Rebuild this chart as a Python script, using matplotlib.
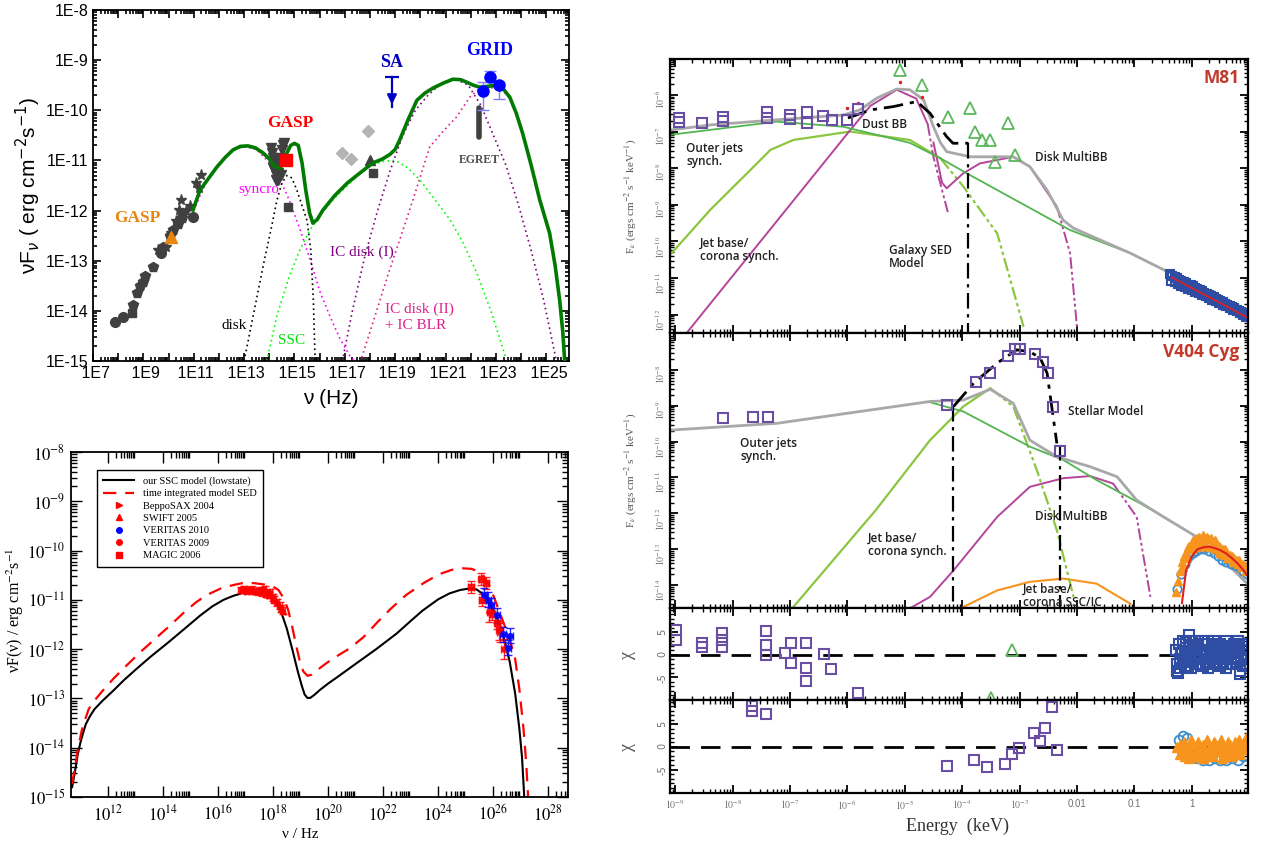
import numpy as np
import matplotlib
matplotlib.use("Agg")
import matplotlib.pyplot as plt
from matplotlib.lines import Line2D
from matplotlib.ticker import LogLocator, FuncFormatter, NullFormatter, MultipleLocator, FixedLocator

plt.rcParams['mathtext.fontset'] = 'stix'
plt.rcParams['axes.linewidth'] = 1.3

# all positions on the log axes are stored as log10 values

# ---------------- panel A : blazar SED ----------------
a_model_x = [10.97, 11.25, 11.6, 11.92, 12.25, 12.56, 12.85, 13.15, 13.45, 13.75, 14.0, 14.14, 14.3,
             14.42, 14.55, 14.7, 14.85, 15.0, 15.15, 15.3, 15.45, 15.6, 15.73, 15.9, 16.13, 16.6, 17.1,
             17.6, 18.11, 18.5, 18.79, 19.0, 19.18, 19.5, 19.86, 20.2, 20.49, 20.9, 21.29, 21.6, 21.84,
             22.1, 22.36, 22.7, 23.03, 23.3, 23.55, 23.8, 24.06, 24.4, 24.74, 25.13, 25.35, 25.53, 25.65, 25.73]
a_model_y = [-11.99, -11.59, -11.35, -11.13, -10.94, -10.79, -10.72, -10.71, -10.75, -10.85, -10.97, -11.09,
             -11.14, -11.16, -11.05, -10.85, -10.7, -10.66, -10.7, -11.05, -11.6, -12.05, -12.25, -12.18,
             -11.99, -11.7, -11.45, -11.25, -11.05, -10.97, -10.88, -10.78, -10.59, -10.2, -9.8, -9.65,
             -9.56, -9.46, -9.38, -9.39, -9.44, -9.5, -9.54, -9.52, -9.5, -9.58, -9.74, -10.05, -10.46,
             -11.1, -11.79, -12.45, -13.1, -13.79, -14.4, -15.0]
a_disk_x = [13.0, 13.4, 13.8, 14.1, 14.3, 14.5, 14.7, 14.9, 15.1, 15.3, 15.5, 15.65, 15.75, 15.82]
a_disk_y = [-15.0, -14.0, -13.0, -12.3, -11.8, -11.45, -11.3, -11.35, -11.6, -11.9, -12.2, -12.8, -13.8, -15.0]
a_sync_x = [11.0, 11.5, 12.0, 12.5, 13.0, 13.5, 14.0, 14.4, 14.8, 15.2, 15.6, 16.0, 16.4, 16.8, 17.2, 17.4]
a_sync_y = [-12.0, -11.4, -11.1, -10.8, -10.72, -10.78, -11.05, -11.35, -11.8, -12.35, -12.95, -13.6,
            -14.1, -14.55, -14.9, -15.0]
a_ssc_x = [13.9, 14.3, 14.8, 15.2, 15.6, 16.0, 16.5, 17.0, 17.5, 18.0, 18.5, 19.0, 19.5, 20.0, 20.6,
           21.2, 21.7, 22.2, 22.8, 23.4]
a_ssc_y = [-15.0, -14.1, -13.3, -12.8, -12.4, -12.1, -11.8, -11.55, -11.3, -11.12, -11.02, -11.0, -11.15,
           -11.4, -11.8, -12.2, -12.65, -13.2, -14.0, -14.95]
a_icd1_x = [16.9, 17.3, 17.8, 18.3, 18.8, 19.3, 19.8, 20.3, 20.8, 21.4, 21.9, 22.4, 22.9, 23.4, 23.9,
            24.4, 24.9, 25.4]
a_icd1_y = [-15.0, -14.0, -12.9, -12.0, -11.2, -10.5, -10.0, -9.7, -9.47, -9.38, -9.5, -9.9, -10.5,
            -11.1, -11.9, -12.8, -13.8, -15.0]
a_icd2_x = [17.67, 18.2, 18.7, 19.2, 19.7, 20.37, 20.9, 21.44, 21.96, 22.36, 22.7, 23.03, 23.3, 23.55,
            23.8, 24.06, 24.4, 24.74, 25.13, 25.35, 25.53, 25.65, 25.73]
a_icd2_y = [-14.93, -14.1, -13.3, -12.55, -11.79, -10.73, -10.42, -10.13, -9.74, -9.56, -9.56, -9.54,
            -9.62, -9.77, -10.08, -10.49, -11.13, -11.81, -12.48, -13.13, -13.82, -14.43, -15.0]
a_circ_x = [7.87, 8.19, 9.7, 10.97]
a_circ_y = [-14.23, -14.13, -12.85, -12.13]
a_pent_x = [8.6, 8.75, 8.87, 9.0, 9.06, 9.38, 9.78, 10.05, 10.17, 10.38, 10.52]
a_pent_y = [-13.89, -13.65, -13.5, -13.42, -13.3, -13.13, -12.73, -12.5, -12.39, -12.27, -12.15]
a_star_x = [9.6, 9.9, 10.1, 10.3, 10.4, 10.5, 10.7, 10.85, 11.1, 11.2, 11.3]
a_star_y = [-12.78, -12.72, -12.45, -12.2, -11.98, -11.78, -12.0, -11.9, -11.45, -11.55, -11.3]
a_sq_x = [8.55, 10.55, 14.75, 18.11]
a_sq_y = [-14.05, -12.05, -11.92, -11.26]
a_opt_x = [14.05, 14.1, 14.15, 14.2, 14.2, 14.25, 14.3, 14.35, 14.4, 14.45, 14.3, 14.5, 14.55, 14.6,
           14.25, 14.35, 14.15, 14.4]
a_opt_y = [-10.75, -10.85, -10.95, -11.05, -11.2, -11.3, -11.4, -11.25, -11.1, -11.3, -11.0, -10.8,
           -10.7, -10.65, -11.4, -11.4, -11.15, -10.95]
a_gasp_red = (14.66, -11.0)
a_gasp_orange = (10.1, -12.53)
a_diam_x = [17.91, 16.88, 17.24]
a_diam_y = [-10.41, -10.85, -10.97]
a_tri = (17.99, -11.0)
a_sa_x, a_sa_top, a_sa_bot = 18.87, -9.34, -9.94
a_egret_x, a_egret_top, a_egret_bot = 22.32, -9.96, -10.53
a_grid_x = [22.48, 22.75, 23.11]
a_grid_y = [-9.61, -9.34, -9.5]
a_grid_lo = [-10.0, -9.44, -9.78]
a_grid_hi = [-9.44, -9.22, -9.44]
a_xticks = list(range(7, 26))
a_yticks = list(range(-15, -7))

# ---------------- panel B : SSC model ----------------
b_ssc_x = [10.7, 10.8, 10.9, 11.0, 11.1, 11.2, 11.35, 11.51, 11.8, 12.2, 12.6, 13.0, 13.56, 14.16,
           14.8, 15.35, 15.8, 16.2, 16.55, 16.9, 17.3, 17.6, 17.9, 18.1, 18.3, 18.5, 18.7, 18.9, 19.05,
           19.15, 19.25, 19.35, 19.5, 19.7, 20.0, 20.38, 21.0, 21.75, 22.5, 23.0, 23.43, 24.0, 24.41,
           24.8, 25.13, 25.4, 25.6, 25.86, 26.05, 26.22, 26.4, 26.6, 26.8, 26.95, 27.05, 27.13]
b_ssc_y = [-14.8, -14.5, -14.15, -13.9, -13.7, -13.52, -13.36, -13.22, -13.05, -12.84, -12.62, -12.42,
           -12.15, -11.88, -11.58, -11.32, -11.13, -11.0, -10.92, -10.86, -10.82, -10.83, -10.9,
           -11.02, -11.25, -11.58, -12.0, -12.45, -12.75, -12.92, -12.99, -12.99, -12.93, -12.83,
           -12.7, -12.55, -12.3, -12.0, -11.68, -11.43, -11.22, -10.99, -10.87, -10.8, -10.77,
           -10.79, -10.87, -11.05, -11.25, -11.47, -11.8, -12.25, -12.9, -13.6, -14.2, -15.0]
b_int_x = [10.7, 10.8, 10.92, 11.05, 11.19, 11.3, 11.46, 11.8, 12.2, 12.7, 13.2, 13.7, 14.2, 14.74,
           15.2, 15.6, 16.1, 16.55, 16.9, 17.3, 17.7, 18.0, 18.2, 18.4, 18.55, 18.7, 18.85, 19.0, 19.1,
           19.25, 19.4, 19.6, 19.9, 20.3, 20.8, 21.3, 21.8, 22.3, 22.84, 23.5, 24.04, 24.5, 24.88,
           25.2, 25.45, 25.65, 25.85, 26.0, 26.2, 26.4, 26.6, 26.8, 26.95, 27.1, 27.2, 27.27]
b_int_y = [-14.74, -14.4, -14.0, -13.65, -13.4, -13.22, -13.08, -12.85, -12.6, -12.32, -12.05, -11.8,
           -11.55, -11.27, -11.05, -10.9, -10.77, -10.7, -10.66, -10.66, -10.69, -10.73, -10.8,
           -10.98, -11.2, -11.55, -11.95, -12.3, -12.45, -12.54, -12.52, -12.43, -12.3, -12.15,
           -11.98, -11.75, -11.45, -11.17, -10.9, -10.65, -10.48, -10.39, -10.36, -10.37, -10.42,
           -10.52, -10.7, -10.9, -11.2, -11.5, -11.8, -12.2, -12.8, -13.6, -14.3, -15.0]
b_sax_x = [16.85, 17.05, 17.25, 17.45, 17.6, 17.75, 17.9, 18.05, 18.25]
b_sax_y = [-10.8, -10.82, -10.79, -10.83, -10.85, -10.88, -10.85, -11.0, -11.12]
b_swift_x = [16.95, 17.15, 17.35, 17.55, 17.7, 17.85, 18.0, 18.15, 18.3, 18.38]
b_swift_y = [-10.78, -10.8, -10.82, -10.8, -10.78, -10.9, -10.95, -11.05, -11.18, -11.22]
b_magic_x = [25.2, 25.57, 25.75, 25.6, 25.97, 26.15]
b_magic_y = [-10.74, -10.57, -10.66, -11.0, -11.28, -11.47]
b_ver09_x = [25.86, 26.22, 26.25, 26.4]
b_ver09_y = [-11.25, -11.62, -11.66, -12.0]
b_ver10_x = [25.68, 25.83, 25.93, 26.15, 26.35, 26.55, 26.62]
b_ver10_y = [-10.9, -11.0, -11.11, -11.31, -11.7, -11.97, -11.73]
b_xticks = [12, 14, 16, 18, 20, 22, 24, 26, 28]
b_yticks = list(range(-15, -7))

# ---------------- panel C : M81 ----------------
m_tot_x = [-9.09, -8.39, -7.23, -6.07, -5.78, -5.49, -5.14, -4.91, -4.67, -4.5, -4.38, -4.27, -3.86,
           -3.11, -2.82, -2.52, -2.24, -2.06, -1.07, -0.2, 0.96]
m_tot_y = [-6.96, -6.82, -6.68, -6.55, -6.41, -6.09, -5.84, -5.86, -6.14, -6.87, -7.3, -7.55, -7.69,
           -7.69, -7.96, -8.6, -9.42, -9.64, -10.32, -11.0, -12.09]
m_jet_x = [-9.09, -7.23, -6.07, -4.91, -4.38, -3.92, -2.12, -1.07, -0.2, 0.96]
m_jet_y = [-7.09, -6.73, -6.87, -7.31, -7.73, -8.14, -9.69, -10.32, -11.0, -12.09]
m_base_x = [-9.09, -8.39, -7.69, -7.34, -6.94, -5.95, -4.91, -4.38]
m_base_y = [-10.37, -9.14, -8.05, -7.5, -7.23, -7.0, -7.23, -7.73]
m_base_tail_x = [-4.38, -3.98, -3.39, -2.93]
m_base_tail_y = [-7.73, -8.5, -9.78, -12.33]
m_dust_x = [-8.8, -5.95, -5.6, -5.14, -4.8, -4.6]
m_dust_y = [-12.5, -6.96, -6.3, -5.86, -6.1, -6.8]
m_dust_tail_x = [-4.6, -4.5, -4.35, -4.25]
m_dust_tail_y = [-6.8, -7.7, -8.6, -9.2]
m_disk_x = [-4.5, -4.35, -4.27, -3.98, -3.69, -3.11, -2.82, -2.35]
m_disk_y = [-7.3, -8.4, -8.55, -8.14, -7.87, -7.69, -7.96, -9.05]
m_disk_tail_x = [-2.35, -2.12, -2.0]
m_disk_tail_y = [-9.05, -10.32, -12.33]
m_gal_x = [-5.99, -5.6, -5.2, -4.79, -4.56, -4.27, -4.16, -3.92, -3.89]
m_gal_y = [-6.63, -6.41, -6.32, -6.18, -6.5, -7.14, -7.32, -7.32, -7.32]
m_gal_drop_x = -3.89
m_sq_x = [-8.94, -8.94, -8.54, -8.17, -8.17, -7.4, -7.4, -7.0, -7.0, -6.7, -6.7, -6.42, -6.27, -6.01, -5.81]
m_sq_y = [-6.64, -6.74, -6.76, -6.61, -6.7, -6.46, -6.64, -6.55, -6.67, -6.48, -6.76, -6.57, -6.68, -6.68, -6.38]
m_tri_x = [-5.08, -4.7, -4.24, -3.87, -3.77, -3.66, -3.52, -3.21, -3.43, -3.08]
m_tri_y = [-5.32, -5.73, -6.59, -6.36, -7.0, -7.23, -7.23, -6.76, -7.82, -7.64]
m_red_x = [-6.0, -5.82, -5.08, -4.7]
m_red_y = [-6.35, -6.22, -5.65, -6.05]
m_xr_x = [-0.38, -0.34, -0.3, -0.26, -0.22, -0.18, -0.14, -0.1, -0.06, -0.02, 0.02, 0.06, 0.1, 0.14,
          0.18, 0.22, 0.26, 0.3, 0.34, 0.38, 0.42, 0.46, 0.5, 0.54, 0.58, 0.62, 0.66, 0.7, 0.74, 0.78,
          0.82, 0.86, 0.9, 0.94,
          -0.36, -0.3, -0.24, -0.18, -0.12, -0.06, 0.0, 0.06, 0.12, 0.18, 0.24, 0.3, 0.36, 0.42, 0.48,
          0.54, 0.6, 0.66, 0.72, 0.78, 0.84, 0.9, 0.95]
m_xr_y = [-10.9, -10.95, -10.98, -11.0, -11.05, -11.08, -11.1, -11.13, -11.18, -11.2, -11.22, -11.27,
          -11.3, -11.33, -11.36, -11.4, -11.44, -11.46, -11.5, -11.52, -11.57, -11.6, -11.64, -11.66,
          -11.7, -11.73, -11.77, -11.8, -11.82, -11.86, -11.9, -11.93, -11.96, -12.0,
          -11.08, -11.12, -11.17, -11.21, -11.25, -11.3, -11.33, -11.38, -11.42, -11.47, -11.5,
          -11.55, -11.6, -11.63, -11.68, -11.73, -11.77, -11.82, -11.86, -11.9, -11.95, -12.0, -12.06]

# ---------------- panel C : V404 Cyg ----------------
v_tot_x = [-9.09, -7.23, -4.56, -3.98, -3.51, -3.11, -2.82, -2.35, -1.77, -1.3, -0.96, -0.49, 0.09, 0.5, 0.98]
v_tot_y = [-9.68, -9.49, -8.88, -8.84, -8.54, -8.93, -9.96, -10.42, -10.7, -10.98, -11.63, -12.1,
           -12.66, -13.22, -13.98]
v_jet_x = [-4.56, -3.98, -2.82, -2.24, -1.66, -0.9, -0.49, 0.09, 0.5, 0.98]
v_jet_y = [-8.9, -9.16, -10.14, -10.51, -11.07, -11.72, -12.1, -12.66, -13.22, -13.98]
v_base_x = [-6.94, -5.5, -4.56, -3.98, -3.51]
v_base_y = [-14.61, -11.9, -9.96, -9.02, -8.51]
v_base_tail_x = [-3.51, -3.11, -2.7, -2.35, -2.06]
v_base_tail_y = [-8.51, -9.02, -10.79, -12.47, -14.33]
v_disk_x = [-4.9, -4.56, -4.15, -3.39, -2.82, -2.24, -1.77, -1.37]
v_disk_y = [-14.64, -14.33, -13.59, -12.1, -11.26, -11.02, -10.96, -11.17]
v_disk_tail_x = [-1.37, -0.96, -0.72]
v_disk_tail_y = [-11.17, -12.1, -14.33]
v_ssc_x = [-3.98, -3.39, -2.82, -2.24, -1.66, -1.07]
v_ssc_y = [-14.61, -14.15, -13.91, -13.82, -13.96, -14.52]
v_star_x = [-4.15, -3.8, -3.39, -3.05, -2.82, -2.64, -2.52, -2.44, -2.35]
v_star_y = [-9.02, -8.37, -7.81, -7.44, -7.49, -7.67, -8.09, -9.02, -10.05]
v_drop_x = [-4.16, -2.29]
v_drop_top = [-9.0, -10.1]
v_sq_x = [-8.17, -7.64, -7.39, -4.26, -3.76, -3.51, -3.21, -3.08, -2.99, -2.73, -2.6, -2.51, -2.42, -2.29]
v_sq_y = [-9.35, -9.32, -9.32, -8.98, -8.35, -8.08, -7.61, -7.42, -7.42, -7.55, -7.78, -8.08, -9.04, -10.25]
v_or_x = [-0.27, -0.24, -0.2, -0.17, -0.14, -0.1, -0.07, -0.04, 0.0, 0.03, 0.06, 0.1, 0.13, 0.16, 0.2,
          0.23, 0.26, 0.3, 0.33, 0.36, 0.4, 0.43, 0.47, 0.5, 0.54, 0.58, 0.62, 0.66, 0.7, 0.74, 0.78,
          0.82, 0.86, 0.9, 0.94, 0.97,
          -0.15, -0.08, 0.0, 0.08, 0.16, 0.24, 0.32, 0.4, 0.48, 0.56, 0.64, 0.72, 0.8, 0.88, 0.95]
v_or_y = [-14.2, -13.9, -13.6, -13.35, -13.2, -13.1, -12.95, -12.9, -12.85, -12.75, -12.8, -12.7,
          -12.65, -12.75, -12.6, -12.7, -12.65, -12.72, -12.7, -12.8, -12.75, -12.85, -12.9, -12.95,
          -13.0, -13.0, -13.1, -13.15, -13.2, -13.25, -13.3, -13.3, -13.4, -13.4, -13.5, -13.5,
          -13.5, -13.25, -13.0, -12.95, -12.9, -12.9, -12.95, -13.0, -13.1, -13.15, -13.25, -13.35,
          -13.4, -13.5, -13.6]
v_bl_x = [-0.25, -0.18, -0.12, -0.05, 0.02, 0.08, 0.15, 0.22, 0.3, 0.38, 0.45, 0.52, 0.6, 0.68, 0.75,
          0.82, 0.9, 0.96]
v_bl_y = [-14.1, -13.7, -13.4, -13.2, -13.1, -13.05, -13.0, -13.0, -13.05, -13.1, -13.2, -13.3, -13.35,
          -13.4, -13.45, -13.5, -13.6, -13.7]
v_fit_x = [-0.17, -0.15, -0.1, 0.0, 0.1, 0.2, 0.3, 0.4, 0.5, 0.6, 0.7, 0.8, 0.9, 0.98]
v_fit_y = [-14.5, -14.24, -13.6, -13.2, -13.0, -12.95, -12.93, -12.97, -13.03, -13.12, -13.25, -13.4,
           -13.58, -13.77]

# ---------------- residuals ----------------
r1_sq_x = [-8.98, -8.98, -8.54, -8.54, -8.19, -8.19, -8.19, -7.41, -7.41, -7.41, -7.08, -6.99, -6.99,
           -6.72, -6.72, -6.72, -6.41, -6.29, -5.82]
r1_sq_y = [5.6, 3.3, 1.8, 2.6, 4.8, 1.8, 3.3, 5.2, 2.2, 0.0, 0.4, 2.6, -1.7, 2.7, -2.8, -5.8, 0.15, -3.2, -8.4]
r1_tri_x = [-3.13, -3.5]
r1_tri_y = [1.1, -9.6]
r1_bl_x = [-0.27, -0.25, -0.23, -0.2, -0.18, -0.15, -0.12, -0.1, -0.07, -0.04, -0.01, 0.02, 0.05, 0.08,
           0.11, 0.14, 0.17, 0.2, 0.23, 0.26, 0.29, 0.32, 0.35, 0.38, 0.41, 0.44, 0.47, 0.5, 0.53,
           0.56, 0.59, 0.62, 0.65, 0.68, 0.71, 0.74, 0.77, 0.8, 0.83, 0.86, 0.89, 0.92, 0.95,
           -0.26, -0.21, -0.16, -0.11, -0.06, -0.01, 0.04, 0.09, 0.14, 0.19, 0.24, 0.29, 0.34, 0.39,
           0.44, 0.49, 0.54, 0.59, 0.64, 0.69, 0.74, 0.79, 0.84, 0.89, 0.94,
           -0.24, -0.17, -0.1, -0.03, 0.04, 0.11, 0.18, 0.25, 0.32, 0.39, 0.46, 0.53, 0.6, 0.67, 0.74,
           0.81, 0.88, 0.95, -0.05, 0.84]
r1_bl_y = [1.0, -2.0, 2.5, -1.0, 0.5, 3.0, -2.5, 1.5, 0.0, 2.0, -1.5, 1.0, 3.0, -0.5, 2.0, -2.0, 1.0,
           2.5, -1.0, 0.5, 3.0, -2.0, 1.5, 0.0, 2.0, -1.5, 1.0, 2.5, -0.5, 1.5, -2.0, 0.5, 2.0, -1.0,
           1.0, 2.5, -1.5, 0.5, 2.0, -0.5, 1.0, -2.0, 2.5,
           -3.5, -2.8, -1.5, 0.0, -2.5, -3.0, -1.0, -2.0, 0.5, -2.5, -1.5, -3.0, -0.5, -2.0, -1.0,
           -2.5, -1.5, -3.0, -1.0, -2.0, -0.5, -1.5, -3.5, -2.5, -1.0,
           -4.0, 0.5, 2.8, 3.0, 1.5, 2.0, 3.0, 2.5, 1.0, 3.0, 2.0, 1.5, 3.0, 2.0, 1.0, 3.0, 2.5, 1.0,
           4.5, -4.2]
r2_sq_x = [-7.66, -7.66, -7.41, -4.27, -3.8, -3.56, -3.25, -3.13, -3.01, -2.74, -2.65, -2.56, -2.44, -2.34]
r2_sq_y = [9.0, 8.0, 7.3, -4.2, -3.0, -4.4, -3.8, -1.6, -0.3, 3.2, 1.4, 4.1, 8.8, -0.7]
r2_or_x = [-0.25, -0.21, -0.17, -0.13, -0.09, -0.05, -0.01, 0.03, 0.07, 0.11, 0.15, 0.19, 0.23, 0.27,
           0.31, 0.35, 0.39, 0.43, 0.47, 0.51, 0.55, 0.59, 0.63, 0.67, 0.71, 0.75, 0.79, 0.83, 0.87,
           0.91, 0.95, 0.98,
           -0.2, -0.12, -0.04, 0.04, 0.12, 0.2, 0.28, 0.36, 0.44, 0.52, 0.6, 0.68, 0.76, 0.84, 0.92, 0.97]
r2_or_y = [0.0, 0.5, -0.5, 1.0, 0.0, -1.0, 1.5, 0.5, -1.5, 1.0, -0.5, 0.5, -1.0, 1.5, 0.0, -1.5, 1.0,
           0.5, -0.5, 1.5, 0.0, -1.0, 1.0, 0.5, -0.5, 1.0, 0.0, 1.5, 0.5, 1.0, 2.0, 2.5,
           -1.5, -2.0, -2.5, -2.0, -1.0, -2.5, -1.5, -2.0, -1.0, -2.5, -1.5, -2.0, -1.0, -1.5, -0.5, 0.5]
r2_bl_x = [-0.22, -0.15, -0.08, 0.0, 0.1, 0.2, 0.3, 0.4, 0.5, 0.6, 0.7, 0.8, 0.9]
r2_bl_y = [1.5, 2.5, 2.0, -2.0, -2.5, -3.0, -3.0, -2.5, -3.0, -3.0, -2.5, -3.0, -2.0]
c_xticks = [-9, -8, -7, -6, -5, -4, -3, -2, -1, 0]
c_xticklabels = [r'$10^{-9}$', r'$10^{-8}$', r'$10^{-7}$', r'$10^{-6}$', r'$10^{-5}$',
                 r'$10^{-4}$', r'$10^{-3}$', '0.01', '0.1', '1']

# ---------------------------------------------------------------------------
W, H = 1268, 841
fig = plt.figure(figsize=(W / 100, H / 100), dpi=100)


def box(l, t, r, b):
    return [l / W, 1 - b / H, (r - l) / W, (b - t) / H]


def p(v):
    return np.power(10.0, np.asarray(v, dtype=float))


def minors(exps, last=10):
    # 2..9 times each decade in exps
    return [k * 10.0 ** e for e in exps for k in range(2, last)]


sans = ['Liberation Sans', 'DejaVu Sans']
serif = ['Liberation Serif', 'DejaVu Serif']

# ============================ panel A ============================
ax = fig.add_axes(box(93, 10, 569, 361))
ax.set_xscale('log')
ax.set_yscale('log')
ax.set_xlim(1e7, p(25.9))
ax.set_ylim(1e-15, 1e-8)

ax.plot(p(a_sync_x), p(a_sync_y), ls=(0, (1, 2)), color='#ff00ff', lw=1.2)
ax.plot(p(a_disk_x), p(a_disk_y), ls=(0, (1, 2)), color='black', lw=1.2)
ax.plot(p(a_ssc_x), p(a_ssc_y), ls=(0, (1, 2)), color='#00ff00', lw=1.2)
ax.plot(p(a_icd1_x), p(a_icd1_y), ls=(0, (1, 2)), color='#800080', lw=1.2)
ax.plot(p(a_icd2_x), p(a_icd2_y), ls=(0, (1, 2)), color='#e0208a', lw=1.2)

grey = '#404040'
ax.plot(p(a_circ_x), p(a_circ_y), 'o', color=grey, ms=7)
ax.plot(p(a_pent_x), p(a_pent_y), 'p', color=grey, ms=7)
ax.plot(p(a_star_x), p(a_star_y), '*', color=grey, ms=8)
ax.plot(p(a_sq_x), p(a_sq_y), 's', color=grey, ms=6)
ax.plot(p(a_opt_x), p(a_opt_y), 'v', color=grey, ms=7)
ax.plot(p(a_diam_x), p(a_diam_y), 'D', color='#b4b4b4', ms=6)
ax.plot(p(a_tri[0]), p(a_tri[1]), '^', color=grey, ms=7)
ax.plot(p(a_model_x), p(a_model_y), color='#007a00', lw=2.6, zorder=4)
ax.plot(p(a_gasp_red[0]), p(a_gasp_red[1]), 's', color='#ff0000', ms=8, zorder=5)
ax.plot(p(a_gasp_orange[0]), p(a_gasp_orange[1]), '^', color='#e8850f', ms=9, zorder=5)

# SA upper limit
ax.plot([p(a_sa_x)] * 2, [p(a_sa_top), p(a_sa_bot)], color='#0000c0', lw=1.6)
ax.plot(p(a_sa_x), p(a_sa_top), marker='_', color='#0000c0', ms=10, mew=1.6)
ax.annotate('', xy=(p(a_sa_x), p(a_sa_bot)), xytext=(p(a_sa_x), p(a_sa_bot + 0.3)),
            arrowprops=dict(arrowstyle='-|>', color='#0000c0', lw=1.6, mutation_scale=14))
# EGRET bar
ax.plot([p(a_egret_x)] * 2, [p(a_egret_top), p(a_egret_bot)], color='#404040', lw=4,
        solid_capstyle='round')
# GRID points
gy = p(a_grid_y)
ax.errorbar(p(a_grid_x), gy, yerr=[gy - p(a_grid_lo), p(a_grid_hi) - gy], fmt='o', color='#0000ff',
            ecolor='#8080ff', elinewidth=1, capsize=4, ms=8, zorder=6)

ax.text(p(14.82), p(-10.26), 'GASP', color='#ff0000', fontsize=12.5, fontweight='bold',
        family=serif, ha='center', va='center')
ax.text(p(8.75), p(-12.15), 'GASP', color='#e8850f', fontsize=12.5, fontweight='bold',
        family=serif, ha='center', va='center')
ax.text(p(18.87), p(-9.04), 'SA', color='#0000c0', fontsize=13, fontweight='bold',
        family=serif, ha='center', va='center')
ax.text(p(22.75), p(-8.8), 'GRID', color='#0000ff', fontsize=13, fontweight='bold',
        family=serif, ha='center', va='center')
ax.text(p(22.36), p(-11.0), 'EGRET', color='#505050', fontsize=8.5, fontweight='bold',
        family=serif, ha='center', va='center')
ax.text(p(13.6), p(-11.58), 'syncro', color='#ff00ff', fontsize=11, family=serif,
        ha='center', va='center', zorder=7)
ax.text(p(12.6), p(-14.3), 'disk', color='black', fontsize=11, family=serif, ha='center', va='center')
ax.text(p(14.9), p(-14.6), 'SSC', color='#00e000', fontsize=11, family=serif, ha='center', va='center')
ax.text(p(17.67), p(-12.83), 'IC disk (I)', color='#800080', fontsize=11, family=serif,
        ha='center', va='center')
ax.text(p(18.59), p(-14.12), 'IC disk (II)\n+ IC BLR', color='#e0208a', fontsize=11, family=serif,
        ha='left', va='center', linespacing=1.3)

ax.xaxis.set_major_locator(FixedLocator(p(a_xticks)))
ax.xaxis.set_minor_locator(FixedLocator(minors(a_xticks)))
ax.yaxis.set_major_locator(FixedLocator(p(a_yticks)))
ax.yaxis.set_minor_locator(FixedLocator(minors(a_yticks[:-1])))
ax.xaxis.set_major_formatter(FuncFormatter(
    lambda v, pos: ' 1E%d' % round(np.log10(v)) if round(np.log10(v)) % 2 == 1 else ''))
ax.yaxis.set_major_formatter(FuncFormatter(lambda v, pos: '1E%d' % round(np.log10(v))))
ax.xaxis.set_minor_formatter(NullFormatter())
ax.yaxis.set_minor_formatter(NullFormatter())
ax.tick_params(which='both', direction='in', top=True, right=True, width=1.2)
ax.tick_params(which='major', length=6, labelsize=11.5)
ax.tick_params(which='minor', length=3)
for lab in ax.get_xticklabels() + ax.get_yticklabels():
    lab.set_family(sans)
ax.set_xlabel('ν (Hz)', fontsize=15, family=sans, labelpad=6)
ax.set_ylabel('νF$_ν$ ( erg cm$^{-2}$s$^{-1}$)', fontsize=15, family=sans, labelpad=2)
ax.yaxis.label.set_math_fontfamily('dejavusans')

# ============================ panel B ============================
bx = fig.add_axes(box(71, 452, 568, 797))
bx.set_xscale('log')
bx.set_yscale('log')
bx.set_xlim(p(10.66), p(28.72))
bx.set_ylim(1e-15, 1e-8)

bx.plot(p(b_ssc_x), p(b_ssc_y), color='black', lw=1.5)
bx.plot(p(b_int_x), p(b_int_y), color='#ff0000', lw=1.6, ls=(0, (6, 4)))

err_x = 0.06
err_y = 0.07
for xs, ys, mk, col, ex, ey in [(b_sax_x, b_sax_y, '>', '#ff0000', err_x, err_y),
                                (b_swift_x, b_swift_y, '^', '#ff0000', err_x, err_y),
                                (b_magic_x, b_magic_y, 's', '#ff0000', 0.1, 0.12),
                                (b_ver09_x, b_ver09_y, 'o', '#ff0000', 0.1, 0.2),
                                (b_ver10_x, b_ver10_y, 'o', '#0000ff', 0.1, 0.15)]:
    xv = p(xs)
    yv = p(ys)
    bx.errorbar(xv, yv, xerr=[xv - xv / 10 ** ex, xv * 10 ** ex - xv],
                yerr=[yv - yv / 10 ** ey, yv * 10 ** ey - yv], fmt=mk, color=col,
                ecolor=col, alpha=0.85, elinewidth=1, capsize=3, ms=4)

handles = [Line2D([], [], color='black', lw=1.5),
           Line2D([], [], color='#ff0000', lw=1.6, ls=(0, (6, 4))),
           Line2D([], [], color='#ff0000', marker='>', ls='none', ms=4),
           Line2D([], [], color='#ff0000', marker='^', ls='none', ms=4),
           Line2D([], [], color='#0000ff', marker='o', ls='none', ms=4),
           Line2D([], [], color='#ff0000', marker='o', ls='none', ms=4),
           Line2D([], [], color='#ff0000', marker='s', ls='none', ms=4)]
labels = ['our SSC model (lowstate)', 'time integrated model SED', 'BeppoSAX 2004', 'SWIFT 2005',
          'VERITAS 2010', 'VERITAS 2009', 'MAGIC 2006']
leg = bx.legend(handles, labels, loc='upper left', bbox_to_anchor=(0.052, 0.948), borderaxespad=0,
                frameon=True, fancybox=False, edgecolor='black', framealpha=1,
                prop={'family': serif, 'size': 7.5}, handlelength=3.0, labelspacing=0.3,
                borderpad=0.6, handletextpad=0.8)
leg.get_frame().set_linewidth(1.0)

bx.xaxis.set_major_locator(FixedLocator(p(b_xticks)))
bx.xaxis.set_minor_locator(FixedLocator(minors(b_xticks[:-1]) + minors([28], last=6)))
bx.yaxis.set_major_locator(FixedLocator(p(b_yticks)))
bx.yaxis.set_minor_locator(FixedLocator(minors(b_yticks[:-1])))
bx.xaxis.set_major_formatter(FuncFormatter(lambda v, pos: r'$10^{%d}$' % round(np.log10(v))))
bx.yaxis.set_major_formatter(FuncFormatter(lambda v, pos: r'$10^{%d}$' % round(np.log10(v))))
bx.xaxis.set_minor_formatter(NullFormatter())
bx.yaxis.set_minor_formatter(NullFormatter())
bx.tick_params(which='both', direction='in', top=True, right=True, width=1.0)
bx.tick_params(which='major', length=8, labelsize=12)
bx.tick_params(which='minor', length=4)
bx.tick_params(axis='x', pad=5)
bx.tick_params(axis='y', pad=4)
fig.text(300 / W, 1 - 834 / H, 'ν / Hz', ha='center', va='center', fontsize=11, family=serif)
fig.text(15 / W, 1 - 610 / H, 'νF(ν) / erg cm$^{-2}$s$^{-1}$', rotation=90, ha='center',
         va='center', fontsize=11.5, family=serif)

# ============================ panel C ============================
cx_l, cx_r = 670, 1248
c_top = fig.add_axes(box(cx_l, 59, cx_r, 333))
c_mid = fig.add_axes(box(cx_l, 333, cx_r, 608))
c_r1 = fig.add_axes(box(cx_l, 608, cx_r, 700))
c_r2 = fig.add_axes(box(cx_l, 700, cx_r, 793))

lab_grey = '#707070'
for a in (c_top, c_mid, c_r1, c_r2):
    a.set_xscale('log')
    a.set_xlim(p(-9.09), p(0.98))
    a.xaxis.set_major_locator(FixedLocator(p(c_xticks)))
    a.xaxis.set_minor_locator(FixedLocator(minors(c_xticks) + minors([-10], last=10)))
    a.xaxis.set_major_formatter(NullFormatter())
    a.xaxis.set_minor_formatter(NullFormatter())
    a.tick_params(which='both', direction='in', top=True, right=True, labelcolor=lab_grey)
    a.tick_params(which='major', length=6, width=1.3)
    a.tick_params(which='minor', length=3, width=1.0)
    for s in a.spines.values():
        s.set_linewidth(1.6)

c_top.set_yscale('log')
c_mid.set_yscale('log')
c_top.set_ylim(p(-12.5), p(-5.02))
c_mid.set_ylim(p(-14.64), p(-6.97))
for a, yt in ((c_top, [-12, -11, -10, -9, -8, -7, -6]), (c_mid, [-14, -13, -12, -11, -10, -9, -8])):
    a.yaxis.set_major_locator(FixedLocator(p(yt)))
    a.yaxis.set_minor_locator(FixedLocator(minors([yt[0] - 1] + yt)))
    a.yaxis.set_major_formatter(FuncFormatter(lambda v, pos: r'$10^{%d}$' % round(np.log10(v))))
    a.yaxis.set_minor_formatter(NullFormatter())
    a.tick_params(axis='y', labelsize=7, labelrotation=90, pad=2)

for a in (c_r1, c_r2):
    a.yaxis.set_major_locator(FixedLocator([-5, 0, 5]))
    a.yaxis.set_minor_locator(MultipleLocator(1))
    a.yaxis.set_major_formatter(FuncFormatter(lambda v, pos: '%d' % v))
    a.tick_params(axis='y', labelsize=7, labelrotation=90, pad=2)
c_r1.set_ylim(-10, 10.4)
c_r2.set_ylim(-10.2, 10.4)

c_r2.xaxis.set_major_formatter(FuncFormatter(lambda v, pos: c_xticklabels[pos]))
c_r2.tick_params(axis='x', labelsize=7, pad=4)
for lab in c_r2.get_xticklabels():
    lab.set_family(sans)

gray_c = '#a8a8a8'
green_c = '#52b552'
ygreen_c = '#8cc63f'
mag_c = '#b4449c'
purple_c = '#6a4ea3'
dd = (0, (6, 1.5, 1.5, 1.5, 1.5, 1.5))
dashdot = (0, (7, 2.5, 1.5, 2.5))

# M81
c_top.plot(p(m_base_x), p(m_base_y), color=ygreen_c, lw=1.6)
c_top.plot(p(m_base_tail_x), p(m_base_tail_y), color=ygreen_c, lw=1.6, ls=dd)
c_top.plot(p(m_dust_x), p(m_dust_y), color=mag_c, lw=1.4)
c_top.plot(p(m_dust_tail_x), p(m_dust_tail_y), color=mag_c, lw=1.4, ls=dd)
c_top.plot(p(m_disk_x), p(m_disk_y), color=mag_c, lw=1.4)
c_top.plot(p(m_disk_tail_x), p(m_disk_tail_y), color=mag_c, lw=1.4, ls=dd)
c_top.plot(p(m_jet_x), p(m_jet_y), color=green_c, lw=1.3)
c_top.plot(p(m_tot_x), p(m_tot_y), color=gray_c, lw=2)
c_top.plot(p(m_gal_x), p(m_gal_y), color='black', lw=2, ls=dashdot)
c_top.plot([p(m_gal_drop_x)] * 2, [p(m_gal_y[-1]), p(-12.5)], color='black', lw=1.6, ls=dashdot)
c_top.plot(p(m_red_x), p(m_red_y), '.', color='#e02020', ms=3)
c_top.plot(p(m_sq_x), p(m_sq_y), 's', mfc='none', mec=purple_c, mew=1.5, ms=7.5)
c_top.plot(p(m_tri_x), p(m_tri_y), '^', mfc='none', mec='#5cb85c', mew=1.3, ms=8)
c_top.plot(p(m_xr_x), p(m_xr_y), 's', mfc='none', mec='#2f4ea3', mew=1.5, ms=6)
c_top.plot(p([-0.35, 0.95]), p([-10.98, -12.06]), color='#e02020', lw=1.2)

txt = dict(family=['Open Sans', 'DejaVu Sans'], fontweight='semibold', color='#231f20', fontsize=8.5,
           va='center', ha='left', linespacing=1.0)
c_top.text(p(-5.74), p(-6.82), 'Dust BB', **txt)
c_top.text(p(-8.81), p(-7.64), 'Outer jets\nsynch.', **txt)
c_top.text(p(-8.56), p(-10.23), 'Jet base/\ncorona synch.', **txt)
c_top.text(p(-5.27), p(-10.43), 'Galaxy SED\nModel', **txt)
c_top.text(p(-2.73), p(-7.72), 'Disk MultiBB', **txt)
c_top.text(0.985, 0.93, 'M81', transform=c_top.transAxes, ha='right', va='center', fontsize=12.5,
           fontweight='bold', color='#c0392b', family=['Open Sans', 'DejaVu Sans'])

# V404 Cyg
c_mid.plot(p(v_ssc_x), p(v_ssc_y), color='#f7941d', lw=1.5)
c_mid.plot(p(v_disk_x), p(v_disk_y), color=mag_c, lw=1.4)
c_mid.plot(p(v_disk_tail_x), p(v_disk_tail_y), color=mag_c, lw=1.4, ls=dd)
c_mid.plot(p(v_base_x), p(v_base_y), color=ygreen_c, lw=1.6)
c_mid.plot(p(v_base_tail_x), p(v_base_tail_y), color=ygreen_c, lw=1.6, ls=dd)
c_mid.plot(p(v_jet_x), p(v_jet_y), color=green_c, lw=1.3)
c_mid.plot(p(v_tot_x), p(v_tot_y), color=gray_c, lw=2)
c_mid.plot(p(v_star_x), p(v_star_y), color='black', lw=2, ls=dashdot)
for xd, yt in zip(v_drop_x, v_drop_top):
    c_mid.plot([p(xd)] * 2, [p(yt), p(-14.64)], color='black', lw=1.6, ls=dashdot)
c_mid.plot(p(v_sq_x), p(v_sq_y), 's', mfc='none', mec=purple_c, mew=1.5, ms=7.5)
c_mid.plot(p(v_bl_x), p(v_bl_y), 'o', mfc='none', mec='#3a8fd0', mew=1.3, ms=6)
c_mid.plot(p(v_or_x), p(v_or_y), '^', color='#f7941d', ms=6)
c_mid.plot(p(v_fit_x), p(v_fit_y), color='#e02020', lw=1.5)
c_mid.text(p(-7.87), p(-10.23), 'Outer jets\nsynch.', **txt)
c_mid.text(p(-5.64), p(-12.89), 'Jet base/\ncorona synch.', **txt)
c_mid.text(p(-2.15), p(-9.17), 'Stellar Model', **txt)
c_mid.text(p(-2.73), p(-12.1), 'Disk MultiBB', **txt)
c_mid.text(p(-2.94), p(-14.31), 'Jet base/\ncorona SSC/IC', **txt)
c_mid.text(0.985, 0.93, 'V404 Cyg', transform=c_mid.transAxes, ha='right', va='center',
           fontsize=12.5, fontweight='bold', color='#c0392b', family=['Open Sans', 'DejaVu Sans'])

# residuals
for a in (c_r1, c_r2):
    a.axhline(0, color='black', lw=2, ls=(0, (7, 4)))
c_r1.plot(p(r1_bl_x), r1_bl_y, 's', mfc='none', mec='#2f4ea3', mew=1.5, ms=7)
c_r1.plot(p(r1_sq_x), r1_sq_y, 's', mfc='none', mec=purple_c, mew=1.5, ms=7.5)
c_r1.plot(p(r1_tri_x), r1_tri_y, '^', mfc='none', mec='#5cb85c', mew=1.3, ms=8, clip_on=False)
c_r2.plot(p(r2_bl_x), r2_bl_y, 'o', mfc='none', mec='#3a8fd0', mew=1.3, ms=7)
c_r2.plot(p(r2_or_x), r2_or_y, '^', color='#f7941d', ms=7)
c_r2.plot(p(r2_sq_x), r2_sq_y, 's', mfc='none', mec=purple_c, mew=1.5, ms=7.5)

ylab = 'F$_ν$ (ergs cm$^{-2}$ s$^{-1}$ keV$^{-1}$)'
fig.text(630 / W, 1 - 196 / H, ylab, rotation=90, ha='center', va='center', fontsize=8,
         family=serif, color='#555555')
fig.text(630 / W, 1 - 470 / H, ylab, rotation=90, ha='center', va='center', fontsize=8,
         family=serif, color='#555555')
fig.text(628 / W, 1 - 655 / H, 'χ', rotation=90, ha='center', va='center', fontsize=13,
         family=serif, color='#555555')
fig.text(628 / W, 1 - 747 / H, 'χ', rotation=90, ha='center', va='center', fontsize=13,
         family=serif, color='#555555')
fig.text(958 / W, 1 - 826 / H, 'Energy  (keV)', ha='center', va='center', fontsize=13,
         family=serif, color='#333333')

fig.savefig('out.png', dpi=100)
